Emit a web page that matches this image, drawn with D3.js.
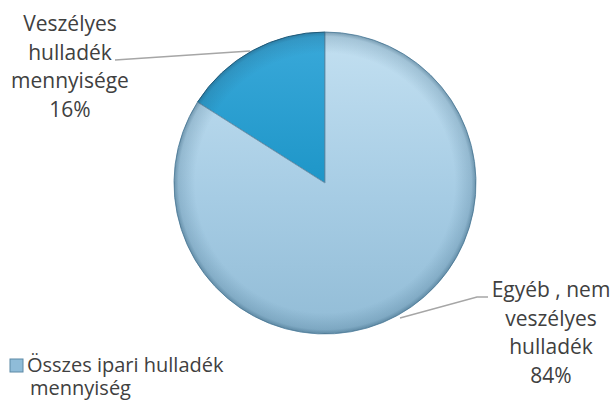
<!DOCTYPE html>
<html>
<head>
<meta charset="utf-8">
<script src="https://cdn.jsdelivr.net/npm/d3@7/dist/d3.min.js"></script>
<style>
  body { margin: 0; background: #fff; }
  text { font-family: "Open Sans", sans-serif; fill: #404040; }
</style>
</head>
<body>
<div id="chart"></div>
<script>
// data
var categories = ["Veszélyes hulladék mennyisége", "Egyéb , nem veszélyes hulladék"];
var values = [16, 84];
var labelLines = [
    ["Veszélyes", "hulladék", "mennyisége", "16%"],
    ["Egyéb , nem", "veszélyes", "hulladék", "84%"]
];
var legendLines = ["Összes ipari hulladék", "mennyiség"];

var width = 611, height = 401;
var cx = 325, cy = 183, radius = 151;

var svg = d3.select("#chart").append("svg")
    .attr("width", width)
    .attr("height", height);

var defs = svg.append("defs");

// gradients for the two slices
var g1 = defs.append("linearGradient").attr("id", "gHaz")
    .attr("x1", 0).attr("y1", 0).attr("x2", 0).attr("y2", 1);
g1.append("stop").attr("offset", "0%").attr("stop-color", "#3aa9da");
g1.append("stop").attr("offset", "100%").attr("stop-color", "#1e96c8");

var g2 = defs.append("linearGradient").attr("id", "gOther")
    .attr("x1", 0).attr("y1", 0).attr("x2", 0).attr("y2", 1);
g2.append("stop").attr("offset", "0%").attr("stop-color", "#c3e0f1");
g2.append("stop").attr("offset", "55%").attr("stop-color", "#a6cce4");
g2.append("stop").attr("offset", "100%").attr("stop-color", "#92bcd6");

// rim shading to fake the bevel
var rim = defs.append("radialGradient").attr("id", "rim")
    .attr("cx", "50%").attr("cy", "50%").attr("r", "50%");
rim.append("stop").attr("offset", "86%").attr("stop-color", "#1d4a66").attr("stop-opacity", 0);
rim.append("stop").attr("offset", "97%").attr("stop-color", "#1d4a66").attr("stop-opacity", 0.18);
rim.append("stop").attr("offset", "100%").attr("stop-color", "#1d4a66").attr("stop-opacity", 0.45);

var pie = d3.pie().sort(null)
    .startAngle(0).endAngle(-2 * Math.PI)
    .value(function(d){ return d; });
var arcs = pie(values);

var arc = d3.arc().innerRadius(0).outerRadius(radius);

var g = svg.append("g").attr("transform", "translate(" + cx + "," + cy + ")");

g.selectAll("path.slice")
    .data(arcs)
    .enter()
  .append("path")
    .attr("class", "slice")
    .attr("d", arc)
    .attr("fill", function(d, i){ return i == 0 ? "url(#gHaz)" : "url(#gOther)"; })
    .attr("stroke", function(d, i){ return i == 0 ? "#245f7e" : "#6f98b2"; })
    .attr("stroke-width", 1);

g.append("circle")
    .attr("r", radius)
    .attr("fill", "url(#rim)")
    .attr("pointer-events", "none");

// leader lines
var leaders = [
    [[115, 60], [250, 51]],
    [[400, 318], [477, 297], [488, 297]]
];
svg.selectAll("path.leader")
    .data(leaders)
    .enter()
  .append("path")
    .attr("class", "leader")
    .attr("d", d3.line())
    .attr("fill", "none")
    .attr("stroke", "#a6a6a6")
    .attr("stroke-width", 1.3);

// labels
var labelPos = [[70, 31], [551, 297]];
var lineH = 28.7;
labelLines.forEach(function(lines, i){
    var t = svg.append("text")
        .attr("text-anchor", "middle")
        .attr("font-size", 21);
    lines.forEach(function(s, j){
        t.append("tspan")
            .attr("x", labelPos[i][0])
            .attr("y", labelPos[i][1] + j * lineH)
            .text(s);
    });
});

// legend
svg.append("rect")
    .attr("x", 10).attr("y", 359)
    .attr("width", 13).attr("height", 13)
    .attr("fill", "#8fbcd8")
    .attr("stroke", "#5d8aa6")
    .attr("stroke-width", 1);
var lt = svg.append("text").attr("font-size", 20);
legendLines.forEach(function(s, j){
    lt.append("tspan")
        .attr("x", j == 0 ? 27 : 30)
        .attr("y", 372 + j * 23)
        .text(s);
});
</script>
</body>
</html>
